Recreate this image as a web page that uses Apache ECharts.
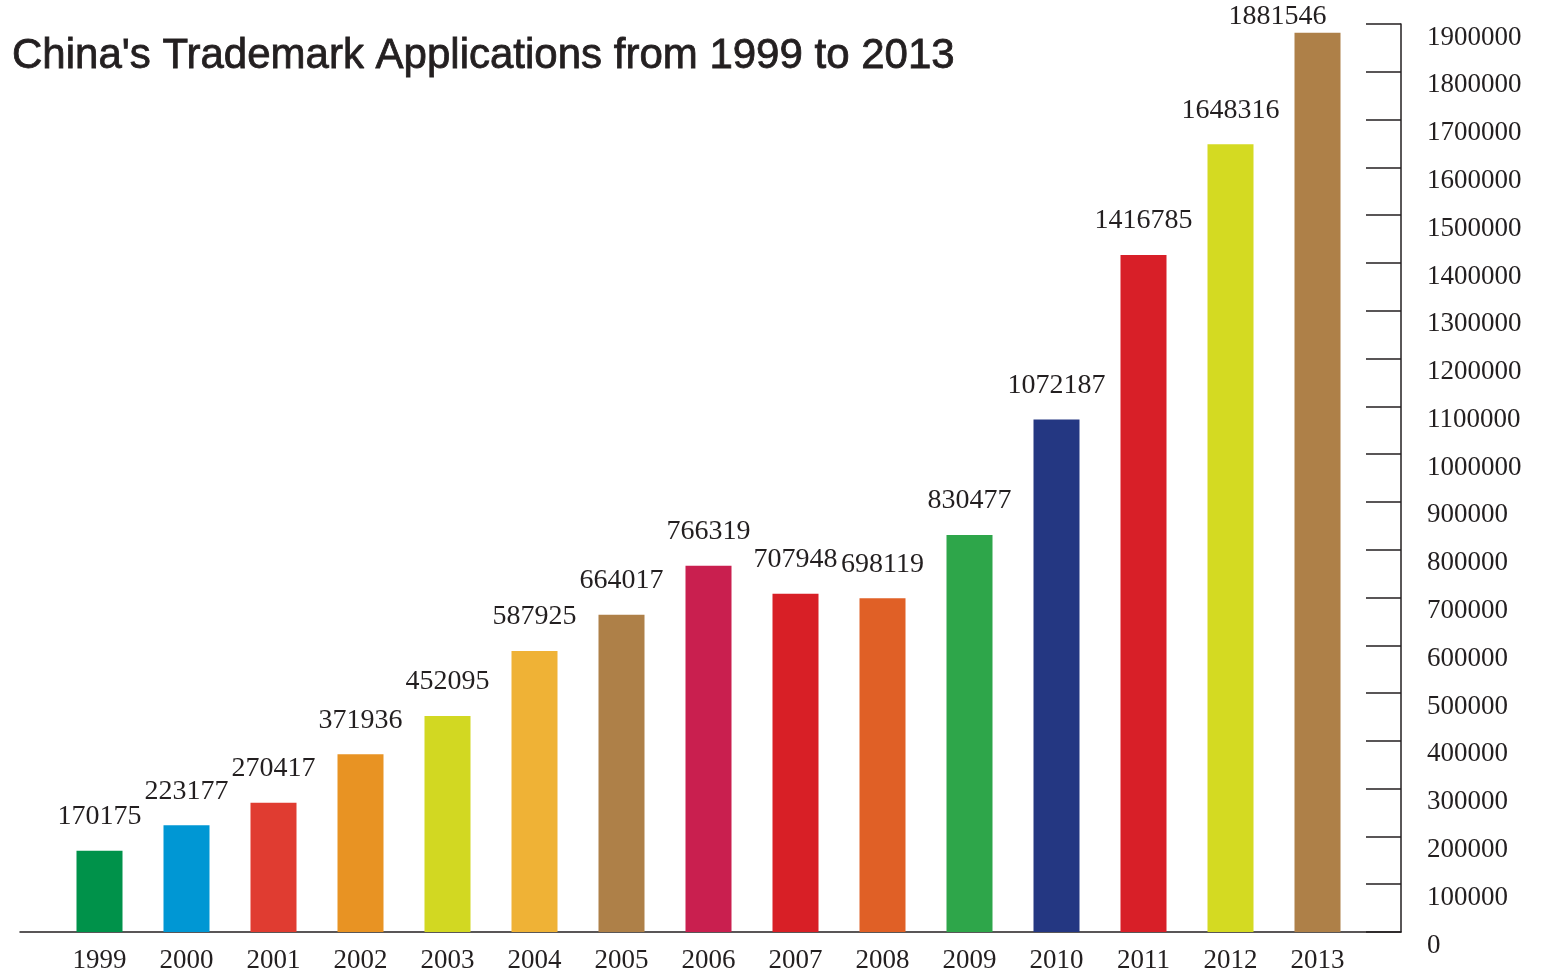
<!DOCTYPE html>
<html>
<head>
<meta charset="utf-8">
<title>China's Trademark Applications from 1999 to 2013</title>
<script src="https://cdn.jsdelivr.net/npm/echarts@6/dist/echarts.min.js"></script>
<style>
  html, body { margin: 0; padding: 0; background: #ffffff; }
  #chart { width: 1556px; height: 974px; }
</style>
</head>
<body>
<div id="chart"></div>
<script>
// Annual trademark applications filed in China
const years = ['1999', '2000', '2001', '2002', '2003', '2004', '2005', '2006',
               '2007', '2008', '2009', '2010', '2011', '2012', '2013'];
const applications = [170175, 223177, 270417, 371936, 452095, 587925, 664017, 766319,
                      707948, 698119, 830477, 1072187, 1416785, 1648316, 1881546];
const barColors = ['#00924a', '#0097d4', '#e03c31', '#e89323', '#d2d822', '#efb236',
                   '#ae8048', '#c91f4f', '#d81f26', '#e06026', '#2ea64a', '#243782',
                   '#d81f28', '#d4da22', '#ae8048'];
const yMin = 0;
const yMax = 1900000;
const yStep = 100000;

const ink = '#231f20';
const serif = '"Liberation Serif", "Times New Roman", serif';

const chart = echarts.init(document.getElementById('chart'), null, { renderer: 'canvas' });

// The last bar sits against the value axis, so its label is nudged left and kept low.
const barData = applications.map((v, i) => {
  const item = { value: v, itemStyle: { color: barColors[i] } };
  if (i === applications.length - 1) {
    item.label = { distance: 2, offset: [-40, 0] };
  }
  return item;
});

chart.setOption({
  animation: false,
  backgroundColor: '#ffffff',
  title: {
    text: "China's Trademark Applications from 1999 to 2013",
    left: 12,
    top: 35,
    padding: 0,
    textStyle: {
      fontFamily: '"Liberation Sans", Arial, sans-serif',
      fontSize: 42,
      fontWeight: 'normal',
      color: ink,
      textBorderColor: ink,
      textBorderWidth: 0.8
    }
  },
  grid: [
    // frame: baseline and value axis
    { left: 20, right: 155, top: 24, bottom: 42 },
    // plotting area for the bars
    { left: 56, right: 195, top: 24, bottom: 42 }
  ],
  xAxis: [
    {
      gridIndex: 0,
      type: 'category',
      data: [''],
      axisLine: { show: true, lineStyle: { color: ink, width: 1.5 } },
      axisTick: { show: false },
      axisLabel: { show: false },
      splitLine: { show: false }
    },
    {
      gridIndex: 1,
      type: 'category',
      data: years,
      axisLine: { show: false },
      axisTick: { show: false },
      splitLine: { show: false },
      axisLabel: {
        margin: 15,
        fontFamily: serif,
        fontSize: 27,
        color: ink,
        interval: 0
      }
    }
  ],
  yAxis: [
    {
      gridIndex: 0,
      type: 'value',
      position: 'right',
      min: yMin,
      max: yMax,
      interval: yStep,
      axisLine: { show: true, lineStyle: { color: ink, width: 1.5 } },
      axisTick: { show: true, inside: true, length: 35, lineStyle: { color: ink, width: 1.5 } },
      splitLine: { show: false },
      axisLabel: {
        margin: 26,
        fontFamily: serif,
        fontSize: 27,
        color: ink,
        verticalAlign: 'top',
        formatter: (v) => String(v),
        showMinLabel: true,
        showMaxLabel: true
      }
    },
    {
      gridIndex: 1,
      type: 'value',
      min: yMin,
      max: yMax,
      interval: yStep,
      show: false
    }
  ],
  series: [
    {
      type: 'bar',
      xAxisIndex: 1,
      yAxisIndex: 1,
      data: barData,
      barWidth: 46,
      label: {
        show: true,
        position: 'top',
        distance: 20,
        fontFamily: serif,
        fontSize: 28,
        color: ink
      }
    }
  ]
});
</script>
</body>
</html>
